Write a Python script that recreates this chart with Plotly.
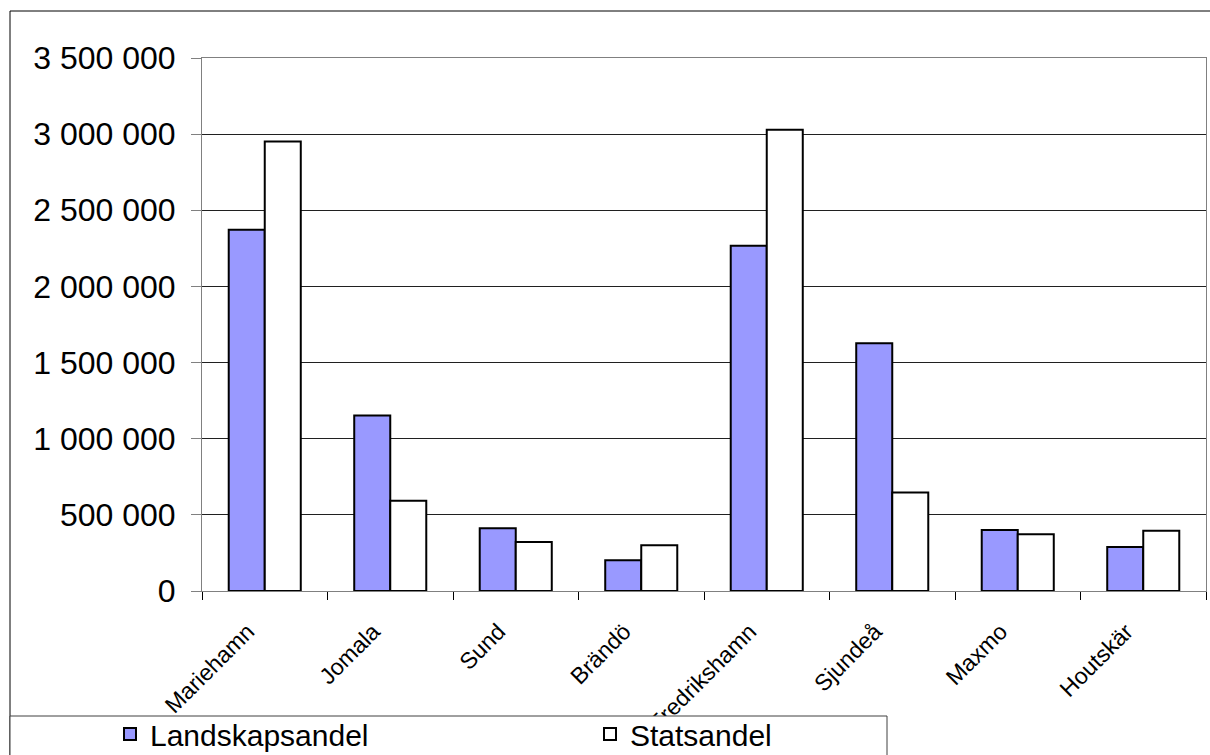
import plotly.graph_objects as go

categories = ["Mariehamn", "Jomala", "Sund", "Brändö", "Fredrikshamn", "Sjundeå", "Maxmo", "Houtskär"]
landskapsandel = [2372000, 1152000, 412000, 202000, 2267000, 1627000, 401000, 289000]
statsandel = [2952000, 593000, 322000, 300000, 3029000, 646000, 373000, 396000]
series_names = ["Landskapsandel", "Statsandel"]
y_ticks = [0, 500000, 1000000, 1500000, 2000000, 2500000, 3000000, 3500000]

W, H = 1210, 755
L, R, T, B = 202, 4, 58, 164
PW, PH = W - L - R, H - T - B

def px_x(px):
    return (px - L) / PW

def px_y(py):
    return (H - B - py) / PH

FONT = "Arial, Liberation Sans, sans-serif"

fig = go.Figure()
fig.add_trace(go.Bar(
    x=categories, y=landskapsandel, name=series_names[0],
    marker=dict(color="#9999FF", line=dict(color="black", width=2)),
    legend="legend", showlegend=True,
))
fig.add_trace(go.Bar(
    x=categories, y=statsandel, name=series_names[1],
    marker=dict(color="white", line=dict(color="black", width=2)),
    legend="legend2", showlegend=True,
))

shapes = [
    dict(type="rect", xref="paper", yref="paper",
         x0=px_x(10), x1=px_x(1220), y0=px_y(11), y1=px_y(770),
         line=dict(color="black", width=1), fillcolor="rgba(0,0,0,0)", layer="below"),
    dict(type="rect", xref="paper", yref="paper",
         x0=px_x(10), x1=px_x(887), y0=px_y(716), y1=px_y(770),
         line=dict(color="#404040", width=1), fillcolor="white", layer="above"),
]

legend_common = dict(orientation="h", yanchor="top", y=px_y(708), xanchor="left",
                     bgcolor="rgba(0,0,0,0)", borderwidth=0, visible=True,
                     font=dict(family=FONT, size=30, color="black"))

fig.update_layout(
    width=W, height=H, autosize=False,
    margin=dict(l=L, r=R, t=T, b=B, pad=0, autoexpand=False),
    paper_bgcolor="white", plot_bgcolor="white",
    separators=", ",
    font=dict(family=FONT, color="black"),
    barmode="group", bargap=0.426, bargroupgap=0,
    shapes=shapes,
    showlegend=True,
    legend=dict(x=px_x(110), **legend_common),
    legend2=dict(x=px_x(590), **legend_common),
)

fig.update_xaxes(
    type="category", tickangle=-45, tickfont=dict(family=FONT, size=23, color="black"),
    ticks="outside", tickson="boundaries", ticklen=8, tickcolor="black",
    ticklabelstandoff=17, ticklabelshift=-17,
    showline=True, linecolor="#808080", linewidth=1, mirror=True,
    showgrid=False,
)
fig.update_yaxes(
    range=[0, 3500000], tickvals=y_ticks, tickformat=",d",
    tickfont=dict(family=FONT, size=32, color="black"),
    ticks="outside", ticklen=10, tickcolor="#808080",
    ticklabelstandoff=9,
    showline=True, linecolor="#808080", linewidth=1, mirror=True,
    showgrid=True, gridcolor="#202020", gridwidth=1,
    zeroline=True, zerolinecolor="#202020", zerolinewidth=1,
)

fig.write_html("out.html", config={"displayModeBar": False},
               post_script="document.body.style.margin='0px';document.body.style.overflow='hidden';")
